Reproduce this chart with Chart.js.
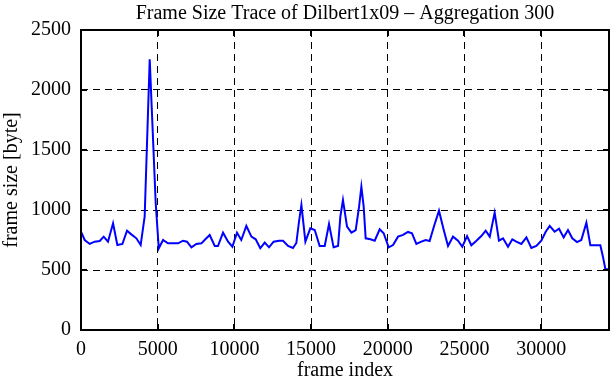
<!DOCTYPE html>
<html>
<head>
<meta charset="utf-8">
<script src="https://cdn.jsdelivr.net/npm/chart.js@4.4.0/dist/chart.umd.min.js"></script>
<style>
  html, body { margin:0; padding:0; background:#fff; }
  #wrap { width:611px; height:380px; }
</style>
</head>
<body>
<div id="wrap"><canvas id="c" width="611" height="380"></canvas></div>
<script>
// frame index (aggregated, 300 frames per point)
const frames = [0,240,570,890,1220,1480,1760,2090,2370,2700,3000,3280,3610,3890,4150,4480,4870,5070,
  5350,5670,6000,6330,6650,6910,7200,7520,7850,8060,8390,8720,8930,9260,9590,9870,10170,10450,10780,
  11110,11390,11690,11980,12260,12560,12910,13170,13500,13820,14040,14210,14370,14630,14950,15240,
  15560,15890,16170,16470,16760,16910,17080,17345,17630,17910,18130,18280,18430,18560,18870,19150,
  19475,19735,20060,20345,20670,21000,21320,21580,21865,22190,22470,22730,23020,23340,23650,23930,
  24255,24580,24860,25170,25450,25780,26100,26385,26650,26970,27250,27515,27840,28120,28380,28710,
  29040,29360,29690,30010,30300,30560,30880,31165,31470,31750,32030,32340,32620,32950,33210,33560,
  33860,34030,34190,34425];
const frameSize = [820,750,717,736,742,778,736,889,708,717,828,797,764,708,944,2256,1058,681,
  750,722,722,722,744,736,689,717,722,750,792,700,700,811,736,694,811,750,867,
  778,756,681,728,689,736,744,744,700,683,725,900,1042,736,847,833,
  700,700,883,689,700,944,1083,861,811,833,1028,1194,1028,764,756,744,
  839,806,689,708,778,792,817,806,717,736,750,742,867,994,833,700,
  778,744,694,783,706,744,783,828,778,978,744,764,694,756,736,717,
  772,683,700,744,819,867,819,844,772,833,764,733,750,894,706,706,
  706,611,506,506];
const xTicks = [0,5000,10000,15000,20000,25000,30000];
const yTicks = [0,500,1000,1500,2000,2500];

const FONT = 'Liberation Serif';
const points = frames.map((f,i)=>({x:f, y:frameSize[i]}));

// gnuplot style frame with inward tick marks
const framePlugin = {
  id:'frame',
  afterDraw(chart){
    const {ctx, chartArea:a, scales} = chart;
    ctx.save();
    ctx.strokeStyle = '#000';
    ctx.lineWidth = 2;
    ctx.strokeRect(a.left, a.top, a.right-a.left, a.bottom-a.top);
    const L = 6;
    ctx.beginPath();
    xTicks.forEach(v=>{
      const px = Math.round(scales.x.getPixelForValue(v));
      ctx.moveTo(px, a.bottom); ctx.lineTo(px, a.bottom-L);
      ctx.moveTo(px, a.top); ctx.lineTo(px, a.top+L);
    });
    yTicks.forEach(v=>{
      const py = Math.round(scales.y.getPixelForValue(v));
      ctx.moveTo(a.left, py); ctx.lineTo(a.left+L, py);
      ctx.moveTo(a.right, py); ctx.lineTo(a.right-L, py);
    });
    ctx.stroke();
    ctx.restore();
  }
};

new Chart(document.getElementById('c'), {
  type:'line',
  data:{ datasets:[{ data:points, borderColor:'#0000ff', borderWidth:2, pointRadius:0, tension:0, fill:false }] },
  options:{
    responsive:false, animation:false,
    layout:{ padding:{ left:0, right:2, top:0, bottom:0 } },
    plugins:{
      legend:{ display:false }, tooltip:{ enabled:false },
      title:{ display:true, fullSize:false, text:'Frame Size Trace of Dilbert1x09 \u2013 Aggregation 300',
        color:'#000', font:{ family:FONT, size:20, weight:'normal' }, padding:{ top:2, bottom:4 } }
    },
    scales:{
      x:{ type:'linear', min:0, max:34425,
        afterBuildTicks(s){ s.ticks = xTicks.map(v=>({value:v})); },
        afterFit(s){ s.height = 50; },
        ticks:{ color:'#000', font:{ family:FONT, size:20 }, padding:8, maxRotation:0, callback:v=>String(v) },
        grid:{ color:'#000', lineWidth:1, drawTicks:false, tickLength:0 },
        border:{ display:false, dash:[7,5] },
        title:{ display:true, text:'frame index', color:'#000', font:{ family:FONT, size:20 }, padding:{ top:0, bottom:-3 } } },
      y:{ min:0, max:2500,
        afterBuildTicks(s){ s.ticks = yTicks.map(v=>({value:v})); },
        afterFit(s){ s.width = 81; },
        ticks:{ color:'#000', font:{ family:FONT, size:20 }, padding:10, callback:v=>String(v) },
        grid:{ color:'#000', lineWidth:1, drawTicks:false, tickLength:0 },
        border:{ display:false, dash:[7,5] },
        title:{ display:true, text:'frame size [byte]', color:'#000', font:{ family:FONT, size:20 }, padding:{ top:0, bottom:0 } } }
    }
  },
  plugins:[framePlugin]
});
</script>
</body>
</html>
